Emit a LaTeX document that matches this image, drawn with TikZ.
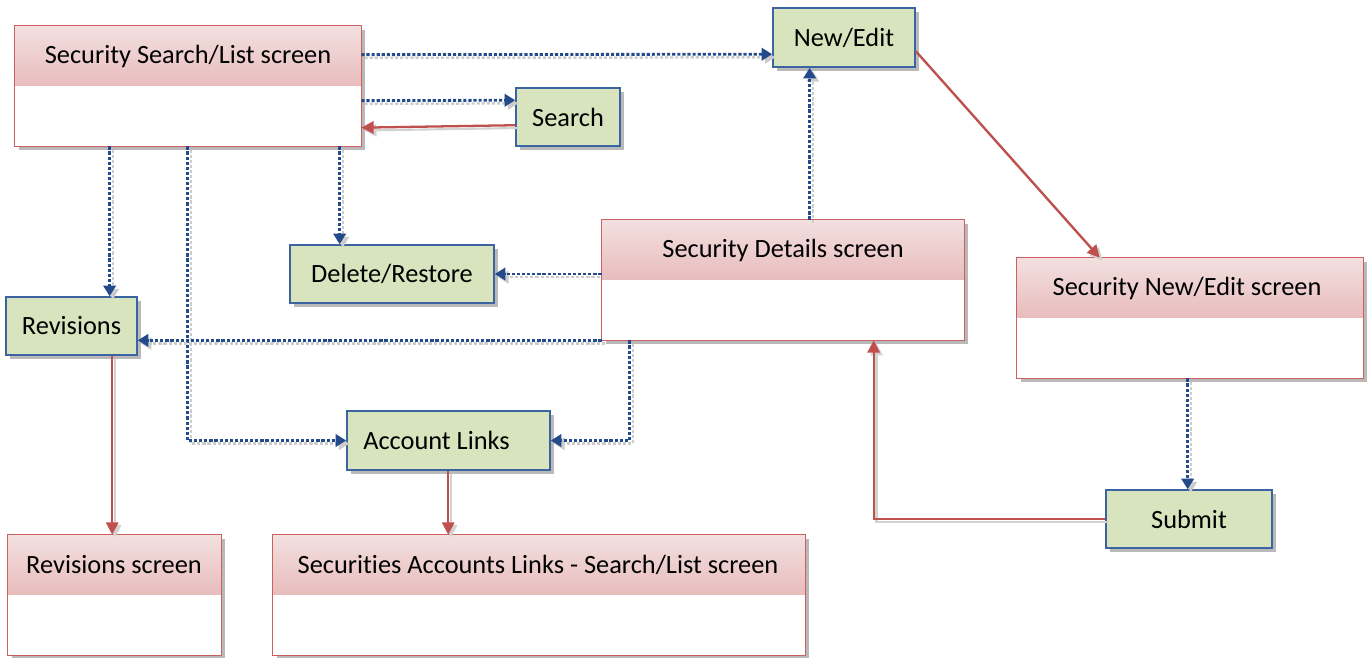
\documentclass[tikz,border=0pt]{standalone}
\usepackage{fontspec}
\setmainfont{Carlito}[Ligatures=NoCommon]
\usetikzlibrary{calc,fit,shadows,arrows.meta}
\definecolor{scrred}{RGB}{204,96,96}
\definecolor{hdrtop}{RGB}{243,224,224}
\definecolor{hdrbot}{RGB}{232,188,188}
\definecolor{actgreen}{RGB}{215,228,189}
\definecolor{actblue}{RGB}{60,100,160}
\definecolor{conblue}{RGB}{35,75,140}
\definecolor{conred}{RGB}{192,80,77}
\tikzset{
  shd/.style={drop shadow={shadow xshift=2.5pt,shadow yshift=-2.5pt,opacity=0.55,fill=gray}},
  screen/.style={fit={#1},inner sep=0pt,fill=white,shd},
  scrborder/.style={draw=scrred,line width=0.9pt},
  hdr/.style={top color=hdrtop,bottom color=hdrbot},
  action/.style={fit={#1},inner sep=0pt,fill=actgreen,draw=actblue,line width=0.9pt,shd},
  lbl/.style={font=\fontsize{15}{18}\selectfont,inner sep=0pt},
  bluedot/.style={draw=conblue,line width=1.6pt,dash pattern=on 1.8pt off 1.1pt,
    -{Triangle[length=6pt,width=7pt]},
    preaction={draw=gray!40,line width=1.4pt,dash pattern=on 1.8pt off 1.1pt,
      transform canvas={xshift=1.8pt,yshift=-1.8pt}}},
  redline/.style={draw=conred,line width=1.3pt,-{Triangle[length=7pt,width=7pt]},
    preaction={draw=gray!35,line width=1.2pt,transform canvas={xshift=1.6pt,yshift=-1.6pt}}},
}
\begin{document}
\begin{tikzpicture}[x=0.02cm,y=-0.02cm]
\useasboundingbox (0,0) rectangle (1371,657);

% ---------- screens ----------
\node[screen={(15,26)(361,146)}] (ssl) {};
\fill[hdr] (ssl.north west) rectangle ($(ssl.north east)+(0,60)$);
\draw[scrborder] (ssl.north west) rectangle (ssl.south east);
\node[lbl] (sslt) at (188,56) {Security Search/List screen};

\node[screen={(602,220)(964,340)}] (details) {};
\fill[hdr] (details.north west) rectangle ($(details.north east)+(0,60)$);
\draw[scrborder] (details.north west) rectangle (details.south east);
\node[lbl] (detailst) at (783,250) {Security Details screen};

\node[screen={(1017,258)(1363,378)}] (newedits) {};
\fill[hdr] (newedits.north west) rectangle ($(newedits.north east)+(0,60)$);
\draw[scrborder] (newedits.north west) rectangle (newedits.south east);
\node[lbl] (neweditst) at (1187,288) {Security New/Edit screen};

\node[screen={(8,535)(221,655)}] (revscr) {};
\fill[hdr] (revscr.north west) rectangle ($(revscr.north east)+(0,60)$);
\draw[scrborder] (revscr.north west) rectangle (revscr.south east);
\node[lbl] (revscrt) at (114,565) {Revisions screen};

\node[screen={(273,535)(805,655)}] (acclscr) {};
\fill[hdr] (acclscr.north west) rectangle ($(acclscr.north east)+(0,60)$);
\draw[scrborder] (acclscr.north west) rectangle (acclscr.south east);
\node[lbl] (acclscrt) at (538,565) {Securities Accounts Links - Search/List screen};

% ---------- actions ----------
\node[action={(516,88)(620,146)}] (search) {};
\node[lbl] (searcht) at (search.center) {Search};
\node[action={(773,8)(915,67)}] (newedit) {};
\node[lbl] (neweditt) at (newedit.center) {New/Edit};
\node[action={(290,245)(494,303)}] (delres) {};
\node[lbl] (delrest) at (delres.center) {Delete/Restore};
\node[action={(6,297)(137,355)}] (revisions) {};
\node[lbl] (revisionst) at (revisions.center) {Revisions};
\node[action={(347,411)(550,470)}] (acclinks) {};
\node[lbl] (acclinkst) at ($(acclinks.center)+(-12,0)$) {Account Links};
\node[action={(1106,490)(1272,548)}] (submit) {};
\node[lbl] (submitt) at (submit.center) {Submit};

% ---------- connectors ----------
\draw[bluedot] ($(ssl.north east)+(0,29)$) -- ($(newedit.north west)+(0,47)$);
\draw[bluedot] ($(ssl.north east)+(0,75)$) -- ($(search.north west)+(0,13)$);
\draw[redline] ($(search.north west)+(0,38)$) -- ($(ssl.north east)+(0,102)$);
\draw[bluedot] ($(ssl.south west)+(325,0)$) coordinate (c4) -- (c4 |- delres.north);
\draw[bluedot] ($(ssl.south west)+(95,0)$) coordinate (c5) -- (c5 |- revisions.north);
\draw[bluedot] ($(ssl.south west)+(173,0)$) coordinate (c6) |- (acclinks.west);
\draw[bluedot] (details.west |- delres.east) -- (delres.east);
\draw[bluedot] (details.south west) -- (revisions.east |- details.south west);
\draw[bluedot] ($(details.south west)+(28,0)$) coordinate (c9) |- (acclinks.east);
\draw[bluedot] ($(details.north west)+(208,0)$) coordinate (c10) -- (c10 |- newedit.south);
\draw[redline] ($(newedit.north east)+(0,44)$) -- ($(newedits.north west)+(83,0)$);
\draw[bluedot] ($(newedits.south west)+(171,0)$) coordinate (c12) -- (c12 |- submit.north);
\draw[redline] (submit.west) -| ($(details.south west)+(272,0)$);
\draw[redline] ($(revisions.south west)+(107,0)$) coordinate (c14) -- (c14 |- revscr.north);
\draw[redline] ($(acclinks.south west)+(102,0)$) coordinate (c15) -- (c15 |- acclscr.north);
\end{tikzpicture}
\end{document}
